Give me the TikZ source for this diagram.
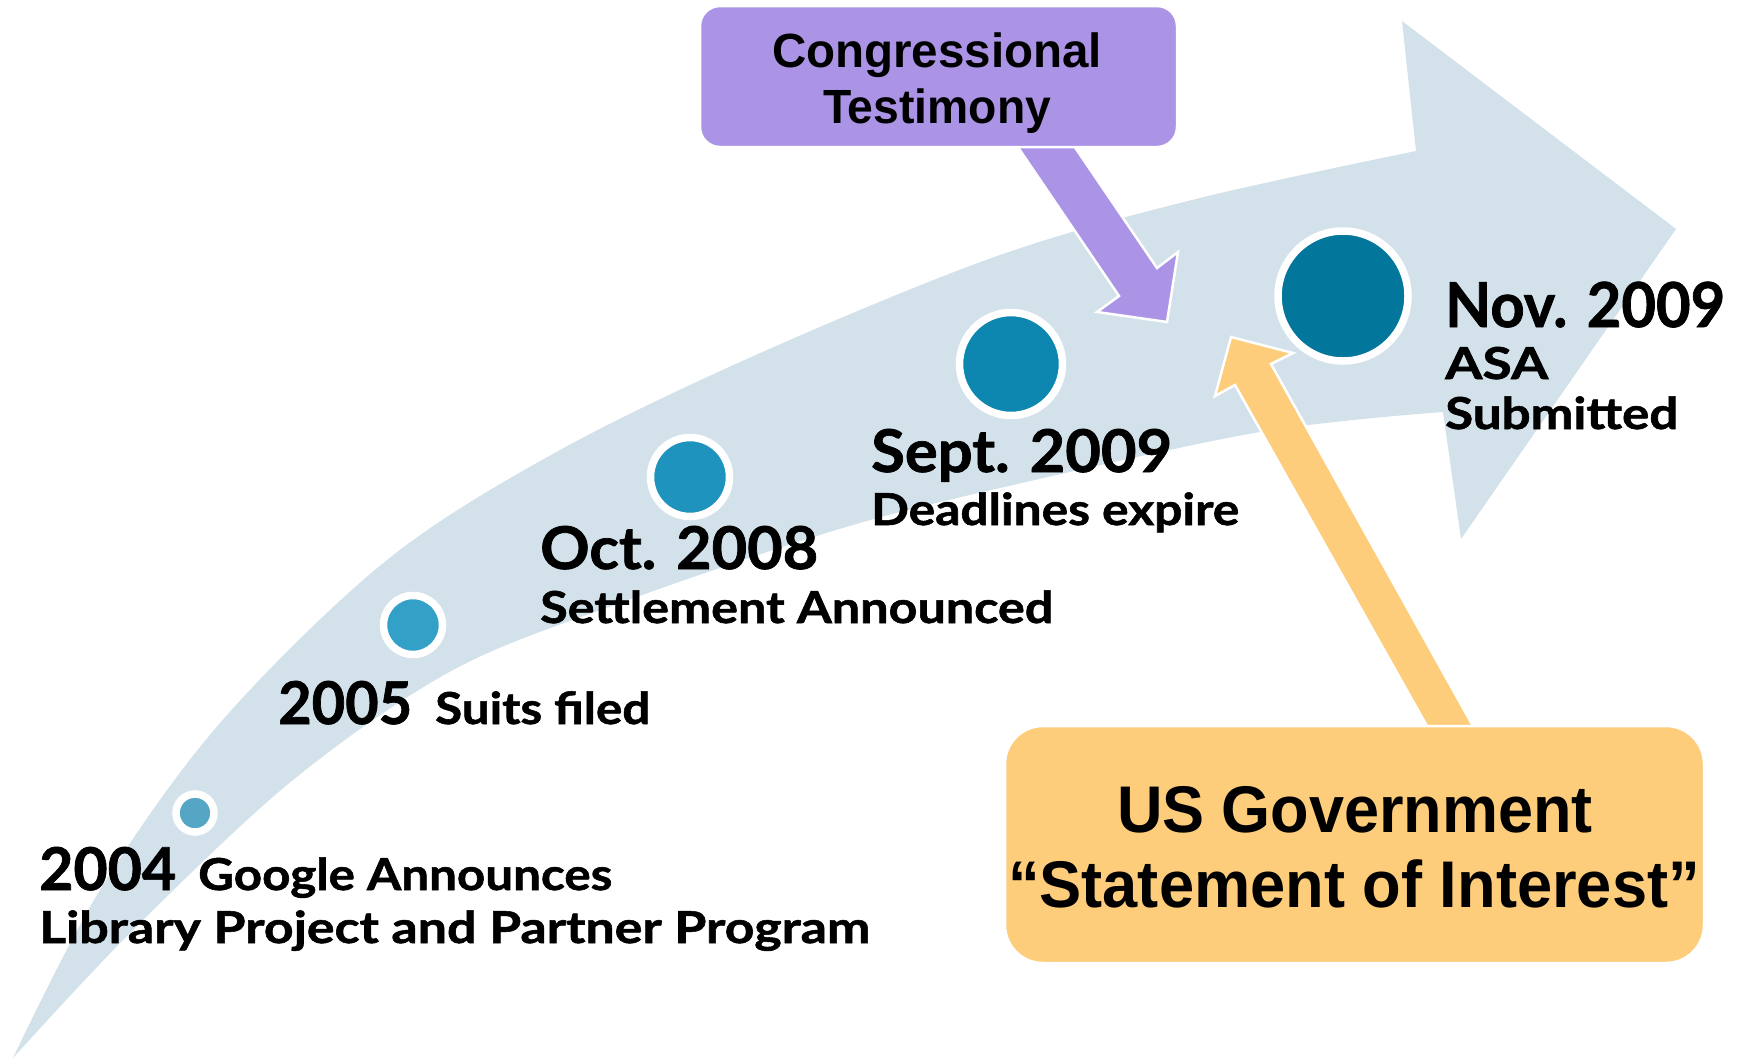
\documentclass[tikz,border=0pt]{standalone}
\usepackage{fontspec}
\usepackage{graphicx}
\setmainfont{Lato}[BoldFeatures={FakeBold=1.2}]
\newfontfamily\boxfont{Liberation Sans}
\definecolor{bandc}{HTML}{D2E1EA}
\definecolor{purp}{HTML}{AB94E6}
\definecolor{yell}{HTML}{FDCD7B}
\definecolor{cA}{HTML}{55A5C4}
\definecolor{cB}{HTML}{33A0C8}
\definecolor{cC}{HTML}{1E93BE}
\definecolor{cD}{HTML}{0D87AF}
\definecolor{cE}{HTML}{03779B}
\newcommand\fw[2]{\resizebox{#1pt}{\height}{#2}}
\tikzset{
  dot/.style={circle, draw=white, line width=7.5pt, inner sep=0pt, outer sep=0pt},
  yr/.style={anchor=base west, inner sep=0pt, font=\bfseries\fontsize{59}{60}\selectfont},
  sm/.style={anchor=base west, inner sep=0pt, font=\bfseries\fontsize{44}{46}\selectfont},
  bigarrow/.style={draw=white, line width=2.5pt, line join=miter},
  calloutbox/.style={rectangle, draw=white, line width=2.5pt, inner sep=0pt},
  ptxt/.style={anchor=base, inner sep=0pt, font=\boxfont\bfseries\fontsize{48}{56}\selectfont},
  ytxt/.style={anchor=base, inner sep=0pt, font=\boxfont\bfseries\fontsize{66}{76}\selectfont}
}
\begin{document}
\begin{tikzpicture}[x=1pt,y=-1pt]
\useasboundingbox (0,0) rectangle (1745,1058);
% big curved arrow
\fill[bandc] plot[smooth,tension=0.55] coordinates {(13,1058) (100,890) (220,723) (387,560) (560,450) (767,350) (1000,255) (1200,198) (1416,151)}
  -- (1402,21) -- (1676,229) -- (1461,539) -- (1443,412)
  -- plot[smooth,tension=0.55] coordinates {(1443,412) (1260,432) (1000,488) (836,530) (620,603) (453,670) (293,780) (133,930) (13,1058)} -- cycle;
% milestones
\node[dot, fill=cA, minimum size=38pt] (c2004) at (195,813) {};
\node[dot, fill=cB, minimum size=59pt] (c2005) at (413,625) {};
\node[dot, fill=cC, minimum size=79pt] (c2008) at (690,477) {};
\node[dot, fill=cD, minimum size=103pt] (c2009) at (1011,364) {};
\node[dot, fill=cE, minimum size=130pt] (cnov) at (1343,296) {};
% labels
\node[yr] (t2004) at (39,890) {\fw{137}{2004}};
\node[sm] (g2004) at (198,890) {\fw{414}{Google Announces}};
\node[sm] (l2004) at (39,943) {\fw{831}{Library Project and Partner Program}};
\node[yr] (t2005) at (278,724) {\fw{134}{2005}};
\node[sm] (s2005) at (435,724) {\fw{215}{Suits filed}};
\node[yr] (t2008) at (540,569) {\fw{278}{Oct. 2008}};
\node[sm] (s2008) at (540,623) {\fw{513}{Settlement Announced}};
\node[yr] (t2009) at (871,472) {\fw{301}{Sept. 2009}};
\node[sm] (s2009) at (871,525) {\fw{368}{Deadlines expire}};
\node[yr, font=\bfseries\fontsize{62}{64}\selectfont] (tnov) at (1445,327) {\fw{280}{Nov. 2009}};
\node[sm] (asa) at (1445,379) {\fw{103}{ASA}};
\node[sm] (sub) at (1445,429) {\fw{233}{Submitted}};
% callout arrows
\filldraw[bigarrow, fill=purp] (1013,140) -- (1119,296) -- (1097,312) -- (1167,322) -- (1178,252) -- (1157,268) -- (1070,140) -- cycle;
\filldraw[bigarrow, fill=yell] (1432,735) -- (1235,385) -- (1215,396) -- (1231,337) -- (1293,353) -- (1271,364) -- (1478,735) -- cycle;
% callout boxes
\node[calloutbox, fill=purp, rounded corners=20pt, minimum width=477pt, minimum height=141pt] (cong) at (938.5,76.5) {};
\node[ptxt] (cong1) at (937,67) {\fw{330}{Congressional}};
\node[ptxt] (cong2) at (937,123) {\fw{228}{Testimony}};
\node[calloutbox, fill=yell, rounded corners=38pt, minimum width=699pt, minimum height=237pt] (usgov) at (1354.5,844.5) {};
\node[ytxt] (us1) at (1355,832) {\fw{476}{US Government}};
\node[ytxt] (us2) at (1354,907) {\fw{692}{“Statement of Interest”}};
\end{tikzpicture}
\end{document}
